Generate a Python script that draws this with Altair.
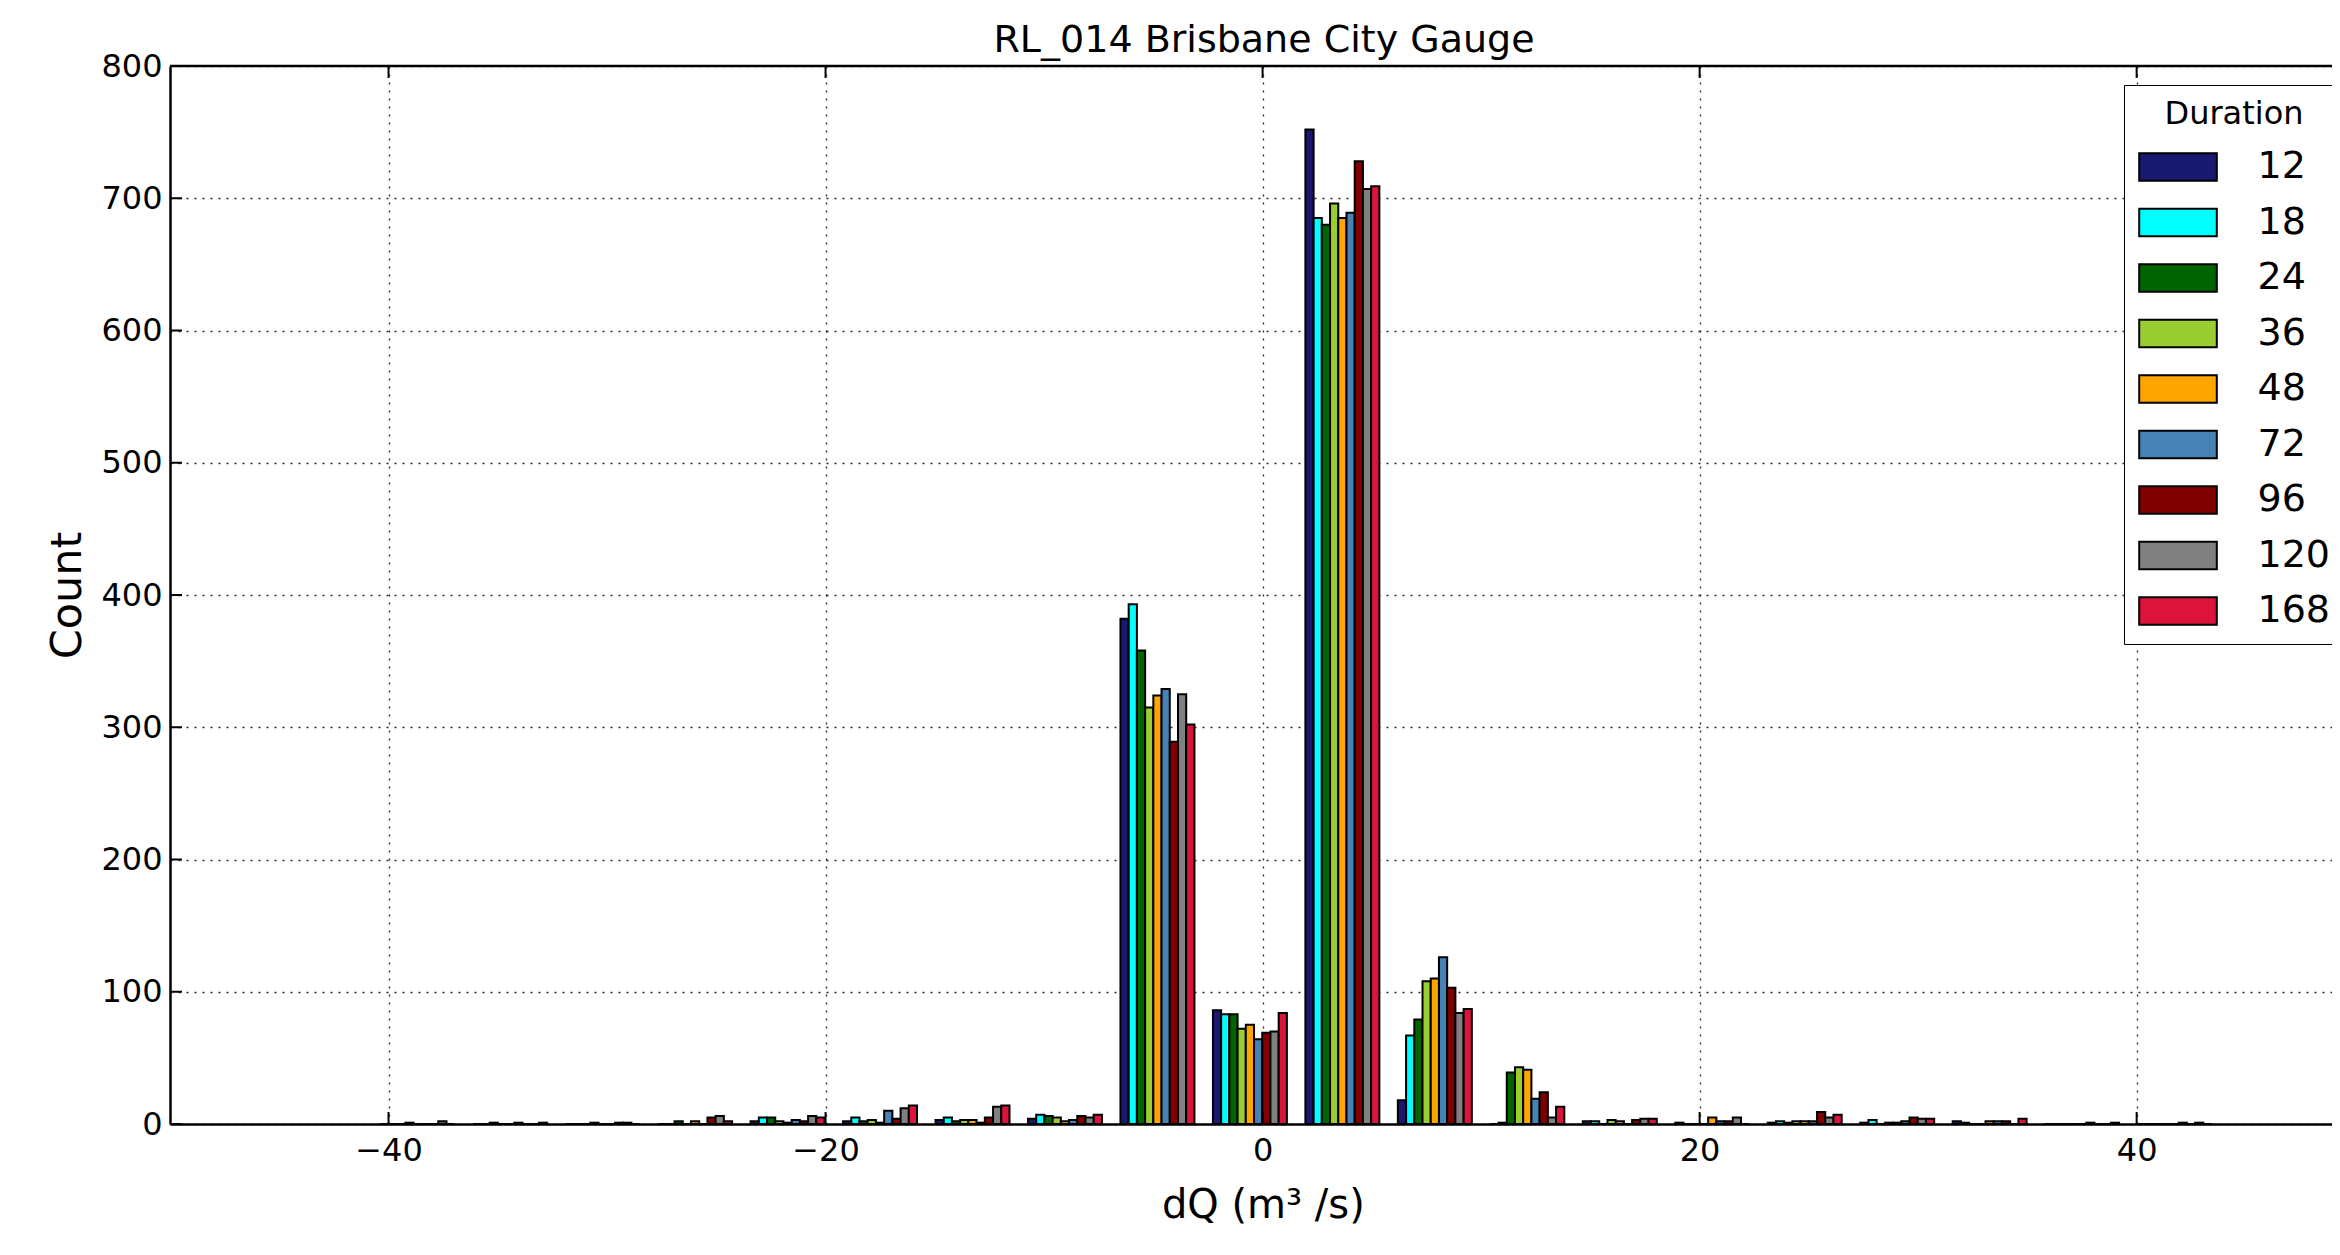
import altair as alt
import pandas as pd

# ---- data ----
durations = ["12", "18", "24", "36", "48", "72", "96", "120", "168"]
colors = ["#191970", "#00ffff", "#006400", "#9acd32", "#ffa500",
          "#4682b4", "#800000", "#808080", "#dc143c"]

bin_start = -40.78      # left edge of the first histogram bin
bin_width = 4.2316      # width of each of the 20 bins

c12 = [0, 0, 0, 0, 2, 2, 3, 4, 382, 86, 752, 18, 0, 2, 1, 1, 1, 2, 0, 0]
c18 = [0, 0, 0, 0, 5, 5, 5, 7, 393, 83, 685, 67, 1, 2, 0, 2, 3, 1, 0, 0]
c24 = [0, 1, 0, 2, 5, 2, 2, 6, 358, 83, 680, 79, 39, 0, 0, 1, 0, 0, 0, 0]
c36 = [1, 0, 1, 0, 2, 3, 3, 5, 315, 72, 696, 108, 43, 3, 0, 2, 1, 0, 0, 0]
c48 = [0, 0, 0, 2, 1, 1, 3, 2, 324, 75, 685, 110, 41, 2, 5, 2, 1, 2, 0, 0]
c72 = [0, 1, 0, 0, 3, 10, 1, 3, 329, 64, 689, 126, 19, 0, 2, 2, 2, 2, 1, 1]
c96 = [0, 0, 1, 5, 2, 4, 5, 6, 289, 69, 728, 103, 24, 3, 2, 9, 5, 2, 0, 0]
c120 = [2, 0, 1, 6, 6, 12, 13, 5, 325, 70, 707, 84, 5, 4, 5, 5, 4, 0, 0, 1]
c168 = [0, 1, 0, 2, 5, 14, 14, 7, 302, 84, 709, 87, 13, 4, 0, 7, 4, 4, 1, 0]
series = [c12, c18, c24, c36, c48, c72, c96, c120, c168]

x_ticks = [-40, -20, 0, 20, 40]
y_ticks = [0, 100, 200, 300, 400, 500, 600, 700, 800]

# ---- build the grouped-histogram table (matplotlib style: 80% of bin used) ----
W, H = 2162, 1058
bw = 0.8 * bin_width / len(durations)
rows = []
for i, (d, vals) in enumerate(zip(durations, series)):
    for n, v in enumerate(vals):
        x0 = bin_start + n * bin_width + 0.1 * bin_width + i * bw
        rows.append({"duration": d, "x0": x0, "x1": x0 + bw, "count": v})
df = pd.DataFrame(rows)

xscale = alt.Scale(domain=[-50, 48.94], nice=False, zero=False)
yscale = alt.Scale(domain=[0, 800], nice=False)

xaxis = alt.Axis(
    values=x_ticks, title="dQ (m³ /s)", titleFontSize=40, titleFontWeight="normal",
    titleColor="black", titleX=1092.85, titleY=93, titleBaseline="alphabetic",
    titleAlign="center", labelFontSize=32, labelColor="black", labelPadding=36,
    labelBaseline="alphabetic", ticks=False, tickSize=0, domainColor="black",
    domainWidth=2.5, grid=True, gridColor="black", gridDash=[2, 6], gridWidth=1.3,
    gridOpacity=0.85, labelOverlap=False,
)
yaxis = alt.Axis(
    values=y_ticks, title="Count", titleFontSize=43, titleFontWeight="normal",
    titleColor="black", titleX=-90, titleY=529, titleAngle=270,
    titleBaseline="alphabetic", titleAlign="center", labelFontSize=32,
    labelColor="black", labelPadding=8, labelBaseline="middle", ticks=False,
    tickSize=0, domainColor="black", domainWidth=2.5, grid=True,
    gridColor="black", gridDash=[2, 6], gridWidth=1.3, gridOpacity=0.85,
    labelOverlap=False,
)
# wide swatch: path spans [-2,2] so the nominal symbol size stays small
legend = alt.Legend(
    title="Duration", orient="none", legendX=1954, legendY=19,
    symbolType="M-2,-0.712L2,-0.712L2,0.712L-2,0.712Z", symbolSize=1505,
    symbolOffset=19.5, symbolStrokeColor="black", symbolStrokeWidth=2,
    symbolOpacity=1, labelFontSize=38, labelColor="black", labelOffset=59,
    titleFontSize=32, titleFontWeight="normal", titleColor="black",
    titleAnchor="middle", titleAlign="center", titlePadding=15.5,
    rowPadding=15.5, padding=14, strokeColor="black", fillColor="white",
)

bars = alt.Chart(df).mark_bar(stroke="black", strokeWidth=2, opacity=1).encode(
    x=alt.X("x0:Q", scale=xscale, axis=xaxis),
    x2="x1:Q",
    y=alt.Y("count:Q", scale=yscale, axis=yaxis),
    y2=alt.datum(0),
    color=alt.Color("duration:N", sort=durations,
                    scale=alt.Scale(domain=durations, range=colors), legend=legend),
)

xt = pd.DataFrame({"tick": x_ticks})
yt = pd.DataFrame({"tick": y_ticks})
bottom_ticks = alt.Chart(xt).mark_rule(color="black", strokeWidth=2).encode(
    x=alt.X("tick:Q", scale=xscale, axis=xaxis), y=alt.value(H), y2=alt.value(H - 12))
top_ticks = alt.Chart(xt).mark_rule(color="black", strokeWidth=2).encode(
    x=alt.X("tick:Q", scale=xscale, axis=xaxis), y=alt.value(0), y2=alt.value(12))
left_ticks = alt.Chart(yt).mark_rule(color="black", strokeWidth=2).encode(
    y=alt.Y("tick:Q", scale=yscale, axis=yaxis), x=alt.value(0), x2=alt.value(12))
top_spine = alt.Chart(pd.DataFrame({"k": [0]})).mark_rule(color="black", strokeWidth=2.5).encode(
    x=alt.value(0), x2=alt.value(W), y=alt.value(0))

chart = alt.layer(bars, bottom_ticks, top_ticks, left_ticks, top_spine).properties(
    width=W, height=H,
    title=alt.TitleParams("RL_014 Brisbane City Gauge", fontSize=38, fontWeight="normal",
                          color="black", anchor="middle", dx=13, dy=53, offset=13,
                          baseline="alphabetic", frame="group"),
    autosize=alt.AutoSizeParams(type="none"),
    padding={"left": 162, "top": 58, "right": 0, "bottom": 110},
).configure_view(strokeWidth=0).configure_legend(
    strokeWidth=2.5, cornerRadius=0
).configure(font="DejaVu Sans")

chart.save("out.html", embed_options={"renderer": "svg", "actions": False})
